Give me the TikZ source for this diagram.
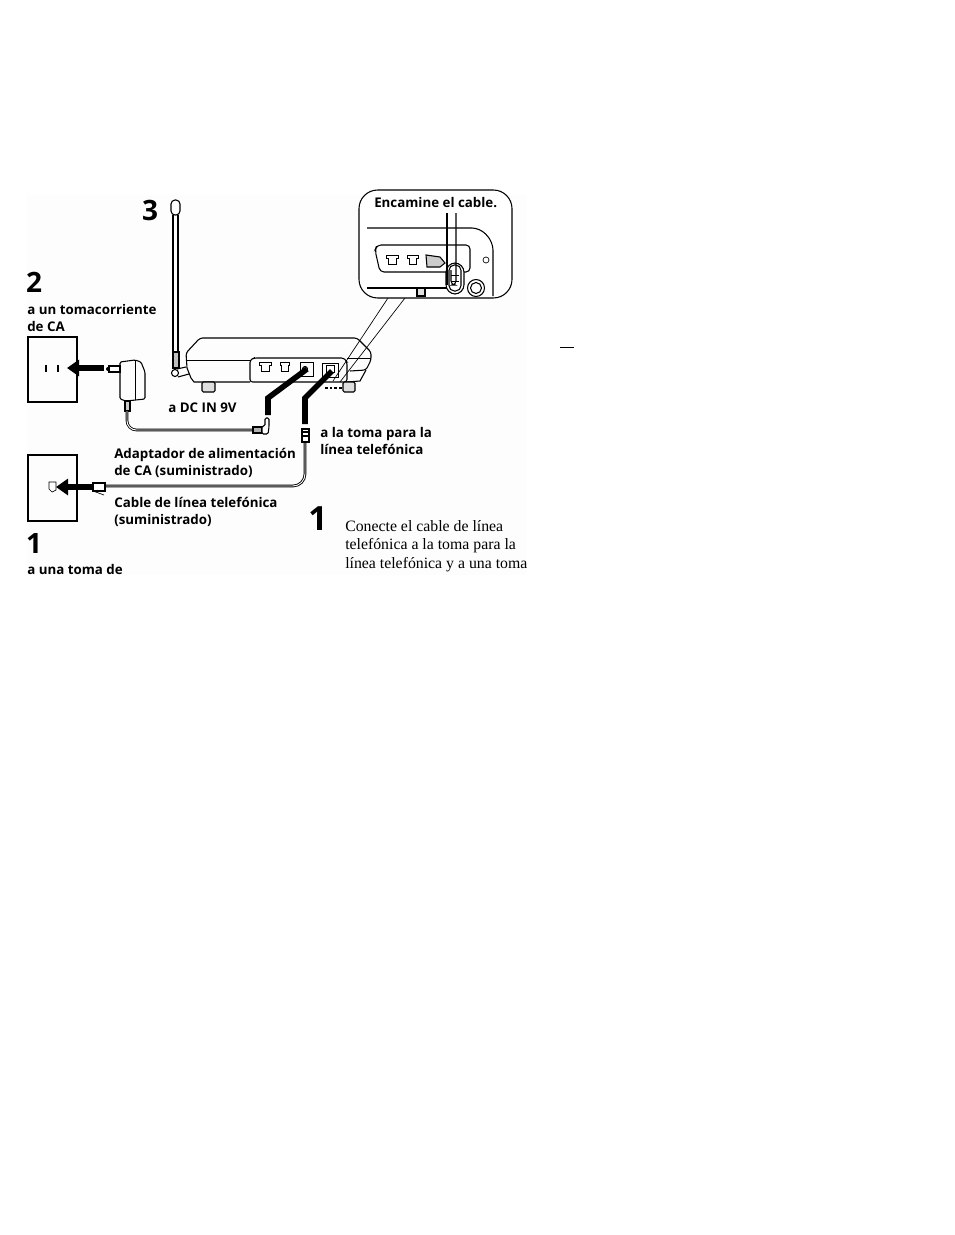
\documentclass[tikz,border=0pt]{standalone}
\usepackage{fontspec}
\setmainfont{Liberation Serif}
\newfontfamily\labelfont{Open Sans}
\usetikzlibrary{positioning, arrows.meta, calc}
\definecolor{cScan}{HTML}{FDFDFD}
\tikzset{
  outline/.style={line width=0.8pt, draw=black},
  thinline/.style={line width=0.5pt, draw=black},
  cord/.style={double=white, double distance=0.7pt, line width=0.65pt, draw=black},
  toarrow/.style={
    -{Triangle[length=9pt,width=12pt]},
    line width=4pt,
    draw=black
  },
  lead/.style={line width=4.2pt, draw=black, line join=miter},
  caption/.style={
    font=\labelfont\bfseries\fontsize{10}{13.4}\selectfont,
    align=left, anchor=west, inner sep=0pt
  },
  stepnum/.style={
    font=\labelfont\bfseries\fontsize{21}{21}\selectfont,
    inner sep=0pt
  },
  bodytext/.style={
    font=\fontsize{11.85}{13.9}\selectfont,
    align=left, anchor=north west, inner sep=0pt
  }
}
\begin{document}
\begin{tikzpicture}[x=0.75pt,y=-0.75pt]
  \useasboundingbox (0,0) rectangle (954,1235);
  \fill[white] (0,0) rectangle (954,1235);
  \fill[cScan] (27,195) rectangle (527,575);

  % step numbers
  \node[stepnum] (numthree) at (150,210) {3};
  \node[stepnum] (numtwo) at (34,282) {2};
  \node[stepnum] (numone) at (34,543) {1};
  \node[stepnum, font=\labelfont\bfseries\fontsize{25}{25}\selectfont] (numbody) at (318,519) {1};

  % captions
  \node[caption] (mains) at (27,318) {a un tomacorriente\\de CA};
  \node[caption] (dcin) at (168,408) {a DC IN 9V};
  \node[caption] (linejack) at (320,441) {a la toma para la\\línea telefónica};
  \node[caption] (adapter) at (114,463) {Adaptador de alimentación\\de CA (suministrado)};
  \node[caption] (phonecable) at (114,512) {Cable de línea telefónica\\(suministrado)};
  \node[caption] (walljack) at (27,569) {a una toma de};
  \node[bodytext] (steptext) at (345,520) {Conecte el cable de línea\\telefónica a la toma para la\\línea telefónica y a una toma};

  % wall plates
  \draw[outline] (28,337) rectangle (77,402);
  \draw[outline] (28,455) rectangle (77,521);
  \draw[line width=1.5pt] (46,365) -- (46,372) (58,365) -- (58,372);
  \draw[thinline] (49,482) -- (56,482) -- (56,490) -- (52,492) -- (49,489) -- cycle;

  % antenna
  \draw[outline, rounded corners=3pt] (171,200) rectangle (180,215);
  \draw[outline] (173,215) -- (173,352) (178,215) -- (178,352);
  \draw[outline, fill=gray!50] (173,352) rectangle (179,368);
  \draw[outline] (175,373) circle (3.5);
  \draw[outline] (177,369) -- (186,367) (178,377) -- (189,374);

  % base unit
  \draw[outline, rounded corners=2pt] (187,368) -- (186,353) -- (200,338) -- (357,338) -- (371,352)
    -- (371,360) -- (366,370) -- (350,371);
  \draw[thinline] (187,360) -- (250,360);
  \draw[thinline] (347,358) -- (371,358);
  \draw[outline] (187,368) -- (191,378) -- (194,382) -- (250,382);
  \draw[outline] (347,382) -- (360,381) -- (366,370);
  \draw[outline, rounded corners=2pt] (250,382) -- (250,360) -- (254,358) -- (344,358) -- (347,362) -- (347,382) -- cycle;
  \draw[outline, fill=gray!25, rounded corners=1pt] (202,382) rectangle (215,392);
  \draw[outline, fill=gray!25, rounded corners=1pt] (343,382) rectangle (355,392);
  \draw[thinline] (259,362) -- (271,362) -- (271,365) -- (269,365) -- (269,371) -- (261,371) -- (261,365) -- (259,365) -- cycle;
  \draw[thinline] (280,362) -- (289,362) -- (289,365) -- (288,365) -- (288,371) -- (281,371) -- (281,365) -- (280,365) -- cycle;
  \draw[thinline] (300,362) rectangle (313,376);
  \draw[outline] (305,369) circle (2.5);
  \draw[thinline] (322,363) rectangle (338,377);
  \draw[thinline] (326,365) -- (334,365) -- (334,372) -- (326,372) -- cycle;
  \draw[line width=1.4pt, dash pattern=on 2pt off 1.5pt] (325,388) -- (343,388);

  % leaders to the jacks
  \coordinate (dcsocket) at (307,369);
  \coordinate (dcbend) at (268,398);
  \coordinate (dcend) at (268,415);
  \coordinate (linesocket) at (332,371);
  \coordinate (linebend) at (305,398);
  \coordinate (lineend) at (305,424);
  \draw[lead] (dcend) -- (dcbend) -- (dcsocket);
  \draw[lead] (lineend) -- (linebend) -- (linesocket);

  % adapter and its cord
  \draw[outline, rounded corners=1pt] (120,362) -- (135,360) -- (141,362) -- (145,372) -- (145,399) -- (126,401) -- (120,399) -- cycle;
  \draw[thinline] (135,360) -- (135,400);
  \draw[outline] (109,366) rectangle (120,372);
  \fill (108,369) circle (2);
  \draw[outline, fill=gray!40] (125,401) rectangle (130,411);
  \coordinate (adaptercord) at (127,411);
  \coordinate (dcplug) at (253,430);
  \draw[cord, rounded corners=7pt] (adaptercord) -- (127,430) -- (dcplug);
  \draw[outline, fill=gray!60] (253,427) rectangle (262,433);
  \draw[outline, fill=white, rounded corners=1pt] (262,426) -- (265,426) -- (265,418) -- (269,418) -- (269,427) -- (268,434) -- (262,434) -- cycle;

  % telephone cable
  \coordinate (wallplug) at (105,486);
  \coordinate (lineplug) at (305,442);
  \draw[cord, rounded corners=9pt] (wallplug) -- (305,486) -- (lineplug);
  \draw[outline, fill=white] (302,429) rectangle (309,442);
  \draw[outline] (303,432) -- (308,432) (303,436) -- (308,436);
  \draw[outline, fill=white] (93,483) rectangle (105,491);
  \draw[thinline] (93,491) -- (104,495);

  % arrows into the wall plates
  \coordinate (mainsfrom) at (104,368);
  \coordinate (mainsto) at (67,368);
  \coordinate (jackfrom) at (92,487);
  \coordinate (jackto) at (56,487);
  \draw[toarrow] (mainsfrom) -- (mainsto);
  \draw[toarrow] (jackfrom) -- (jackto);

  % callout
  \draw[thinline] (388,298) -- (333,381);
  \draw[thinline] (405,298) -- (340,382);
  \draw[outline, rounded corners=14pt, fill=white] (359,190) rectangle (512,298);
  \node[caption] (routing) at (374,203) {Encamine el cable.};
  \draw[outline, rounded corners=6pt] (367,228) -- (480,228) -- (493,242) -- (493,296);
  \draw[outline, rounded corners=3pt] (377,245) -- (470,245) -- (470,272) -- (380,272) -- (375,250) -- cycle;
  \draw[outline] (367,288) -- (447,288);
  \draw[thinline] (386,255) -- (398,255) -- (398,258) -- (396,258) -- (396,264) -- (388,264) -- (388,258) -- (386,258) -- cycle;
  \draw[thinline] (407,255) -- (418,255) -- (418,258) -- (416,258) -- (416,264) -- (409,264) -- (409,258) -- (407,258) -- cycle;
  \draw[outline, fill=gray!40] (426,255) -- (440,257) -- (445,263) -- (440,267) -- (427,267) -- cycle;
  \draw[outline, fill=gray!25] (417,288) rectangle (425,296);
  \draw[thinline] (486,260) circle (3);
  \draw[outline] (476,288) circle (8.5);
  \draw[outline] (476,288) circle (5.5);
  \draw[outline, rounded corners=7pt, fill=white] (446,263) rectangle (464,294);
  \draw[outline, rounded corners=4pt] (449,265) rectangle (461,291);
  \coordinate (loopleft) at (447,213);
  \coordinate (loopright) at (456,213);
  \draw[outline] (loopleft) -- (447,285);
  \draw[outline, rounded corners=3pt] (loopright) -- (456,285) -- (451,285) -- (451,270);
  \draw[thinline] (451,275) -- (459,275) (451,281) -- (459,281);

  % stray marks of the scan
  \draw[thinline] (560,347) -- (574,347);
\end{tikzpicture}
\end{document}
